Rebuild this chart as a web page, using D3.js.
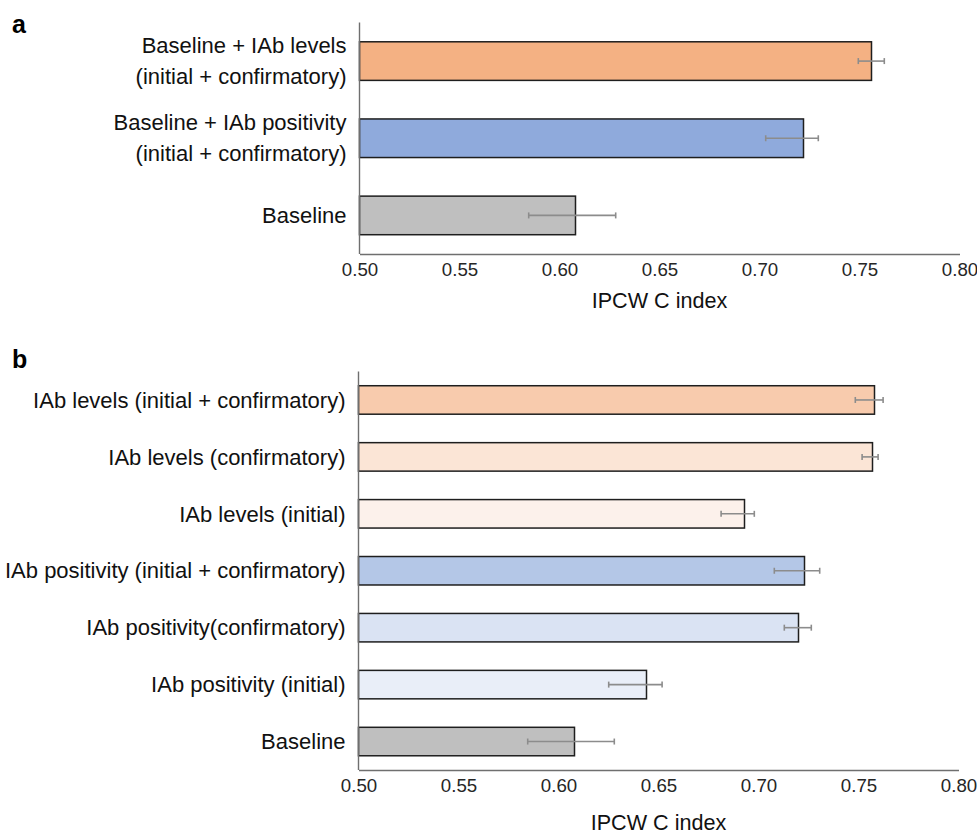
<!DOCTYPE html>
<html lang="en">
  <head>
    <meta charset="UTF-8" />
    <title>IPCW C index</title>
    <script src="https://d3js.org/d3.v7.min.js"></script>
    <style>
      body {
        margin: 0;
        background: #fff;
      }
      svg {
        font-family: "Liberation Sans", Arial, sans-serif;
      }
      .tick text {
        font-size: 18.7px;
        fill: #262626;
      }
      .cat {
        font-size: 22px;
        fill: #111;
      }
      .title {
        font-size: 21.6px;
        fill: #111;
      }
      .panel {
        font-size: 25px;
        font-weight: bold;
      }
    </style>
  </head>
  <body>
    <svg width="977" height="835"></svg>

    <script>
      // panel a
      const catsA = [
        "Baseline + IAb levels|(initial + confirmatory)",
        "Baseline + IAb positivity|(initial + confirmatory)",
        "Baseline",
      ];
      const valsA = [0.756, 0.722, 0.608];
      const lowA = [0.7494, 0.7031, 0.5846];
      const highA = [0.7624, 0.7294, 0.6281];
      const colorsA = ["#F4B183", "#8FAADC", "#BFBFBF"];

      // panel b
      const catsB = [
        "IAb levels (initial + confirmatory)",
        "IAb levels (confirmatory)",
        "IAb levels (initial)",
        "IAb positivity (initial + confirmatory)",
        "IAb positivity(confirmatory)",
        "IAb positivity (initial)",
        "Baseline",
      ];
      const valsB = [0.758, 0.757, 0.693, 0.723, 0.72, 0.644, 0.608];
      const lowB = [0.7484, 0.7518, 0.6813, 0.7079, 0.7129, 0.6251, 0.5846];
      const highB = [0.7623, 0.7598, 0.6979, 0.7306, 0.7264, 0.6518, 0.6279];
      const colorsB = [
        "#F8CBAD",
        "#FBE5D6",
        "#FCF1EB",
        "#B4C7E7",
        "#DAE3F3",
        "#E9EEF8",
        "#BFBFBF",
      ];

      const xTicks = [0.5, 0.55, 0.6, 0.65, 0.7, 0.75, 0.8];
      const xTitle = "IPCW C index";

      const svg = d3.select("svg");

      function drawPanel(opts) {
        const { cats, vals, low, high, colors, x0, x1, y0, y1, tag, tagY, lineH, titleOff } = opts;
        const g = svg.append("g");

        const x = d3.scaleLinear().domain([0.5, 0.8]).range([x0, x1]);
        const y = d3
          .scaleBand()
          .domain(cats)
          .range([y0, y1])
          .paddingInner(0.5)
          .paddingOuter(0.25);

        // bars
        g.selectAll("rect.bar")
          .data(cats)
          .enter()
          .append("rect")
          .attr("class", "bar")
          .attr("x", x(0.5))
          .attr("y", (d) => y(d))
          .attr("width", (d, i) => x(vals[i]) - x(0.5))
          .attr("height", y.bandwidth())
          .attr("fill", (d, i) => colors[i])
          .attr("stroke", "#1e1e1e")
          .attr("stroke-width", 1.5);

        // error bars
        const err = g
          .selectAll("g.err")
          .data(cats)
          .enter()
          .append("g")
          .attr("class", "err")
          .attr("stroke", "#8c8c8c")
          .attr("stroke-width", 1.6);
        const cy = (d) => y(d) + y.bandwidth() / 2;
        err
          .append("line")
          .attr("x1", (d, i) => x(low[i]))
          .attr("x2", (d, i) => x(high[i]))
          .attr("y1", cy)
          .attr("y2", cy);
        err
          .append("line")
          .attr("x1", (d, i) => x(low[i]))
          .attr("x2", (d, i) => x(low[i]))
          .attr("y1", (d) => cy(d) - 3)
          .attr("y2", (d) => cy(d) + 3);
        err
          .append("line")
          .attr("x1", (d, i) => x(high[i]))
          .attr("x2", (d, i) => x(high[i]))
          .attr("y1", (d) => cy(d) - 3)
          .attr("y2", (d) => cy(d) + 3);

        // y axis line
        g.append("line")
          .attr("x1", x0)
          .attr("x2", x0)
          .attr("y1", y0)
          .attr("y2", y1)
          .attr("stroke", "#6f6f6f")
          .attr("stroke-width", 1.4);

        // x axis
        const ax = g
          .append("g")
          .attr("transform", `translate(0,${y1})`)
          .call(
            d3
              .axisBottom(x)
              .tickValues(xTicks)
              .tickSize(0)
              .tickPadding(10)
              .tickFormat(d3.format(".2f"))
          );
        ax.select(".domain").attr("stroke", "#6f6f6f").attr("stroke-width", 1.4);
        ax.selectAll(".tick text").attr("dy", "0.71em").attr("y", 9);
        ax.attr("font-family", null).attr("font-size", null);

        g.append("text")
          .attr("class", "title")
          .attr("x", (x0 + x1) / 2)
          .attr("y", y1 + titleOff)
          .attr("text-anchor", "middle")
          .text(xTitle);

        // category labels
        const lab = g
          .selectAll("text.cat")
          .data(cats)
          .enter()
          .append("text")
          .attr("class", "cat")
          .attr("text-anchor", "end")
          .attr("x", x0 - 13)
          .attr("y", cy);
        lab.each(function (d) {
          const lines = d.split("|");
          const t = d3.select(this);
          lines.forEach((s, k) => {
            t.append("tspan")
              .attr("x", x0 - 13)
              .attr("y", cy(d) + (k - (lines.length - 1) / 2) * lineH)
              .attr("dy", "0.35em")
              .text(s);
          });
        });

        svg.append("text")
          .attr("class", "panel")
          .attr("x", 12)
          .attr("y", tagY)
          .text(tag);
      }

      drawPanel({
        cats: catsA, vals: valsA, low: lowA, high: highA, colors: colorsA,
        x0: 359.5, x1: 959.5, y0: 22.5, y1: 254, tag: "a", tagY: 33, lineH: 31, titleOff: 54,
      });
      drawPanel({
        cats: catsB, vals: valsB, low: lowB, high: highB, colors: colorsB,
        x0: 358.5, x1: 958.5, y0: 371.5, y1: 770, tag: "b", tagY: 368, lineH: 31, titleOff: 60,
      });
    </script>
  </body>
</html>
